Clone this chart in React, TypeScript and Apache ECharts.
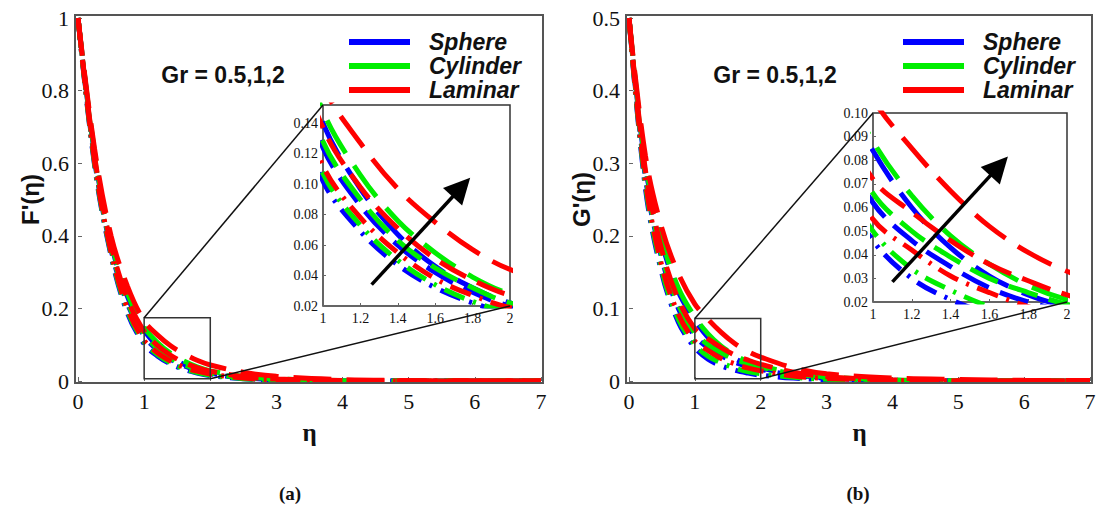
import React, { useEffect, useRef } from "react";
import * as echarts from "echarts";

// similarity variable η where every profile is sampled
const ETA = [0, 0.25, 0.5, 0.75, 1, 1.2, 1.4, 1.6, 1.8, 2, 2.5, 3, 4, 5, 6, 7];

// F'(η) profiles for Gr = 0.5, 1, 2
const F_SPHERE_GR05 = [1, 0.595, 0.345, 0.186, 0.102, 0.069, 0.047, 0.032, 0.022, 0.015, 0.006, 0.0025, 0.0005, 0.0001, 0, 0];
const F_SPHERE_GR1 = [1, 0.61, 0.362, 0.212, 0.124, 0.086, 0.06, 0.042, 0.029, 0.02, 0.008, 0.0035, 0.0009, 0.0002, 0.0001, 0];
const F_SPHERE_GR2 = [1, 0.625, 0.38, 0.232, 0.14, 0.097, 0.067, 0.046, 0.032, 0.022, 0.009, 0.004, 0.001, 0.0003, 0.0001, 0];
const F_CYLINDER_GR05 = [1, 0.6, 0.35, 0.192, 0.107, 0.073, 0.05, 0.034, 0.023, 0.016, 0.0065, 0.0028, 0.0006, 0.0001, 0, 0];
const F_CYLINDER_GR1 = [1, 0.615, 0.368, 0.217, 0.128, 0.09, 0.063, 0.045, 0.032, 0.022, 0.009, 0.004, 0.001, 0.0002, 0.0001, 0];
const F_CYLINDER_GR2 = [1, 0.63, 0.385, 0.24, 0.148, 0.106, 0.076, 0.055, 0.039, 0.028, 0.013, 0.006, 0.0015, 0.0004, 0.0001, 0];
const F_LAMINAR_GR05 = [1, 0.605, 0.355, 0.198, 0.112, 0.078, 0.055, 0.038, 0.027, 0.019, 0.008, 0.0035, 0.0008, 0.0002, 0, 0];
const F_LAMINAR_GR1 = [1, 0.62, 0.375, 0.225, 0.137, 0.098, 0.071, 0.051, 0.037, 0.027, 0.012, 0.0055, 0.0013, 0.0004, 0.0001, 0];
const F_LAMINAR_GR2 = [1, 0.64, 0.4, 0.26, 0.165, 0.127, 0.097, 0.075, 0.057, 0.044, 0.024, 0.013, 0.004, 0.0015, 0.0006, 0.0003];

// G'(η) profiles for Gr = 0.5, 1, 2
const G_SPHERE_GR05 = [0.5, 0.265, 0.148, 0.081, 0.046, 0.03, 0.021, 0.015, 0.011, 0.008, 0.004, 0.002, 0.0005, 0.0001, 0, 0];
const G_SPHERE_GR1 = [0.5, 0.28, 0.168, 0.1, 0.062, 0.046, 0.035, 0.026, 0.02, 0.016, 0.008, 0.004, 0.001, 0.0003, 0.0001, 0];
const G_SPHERE_GR2 = [0.5, 0.295, 0.19, 0.123, 0.084, 0.06, 0.043, 0.031, 0.023, 0.018, 0.009, 0.0045, 0.0011, 0.0003, 0.0001, 0];
const G_CYLINDER_GR05 = [0.5, 0.27, 0.152, 0.085, 0.05, 0.034, 0.025, 0.018, 0.013, 0.01, 0.005, 0.0025, 0.0006, 0.0001, 0, 0];
const G_CYLINDER_GR1 = [0.5, 0.285, 0.172, 0.105, 0.066, 0.05, 0.039, 0.03, 0.024, 0.019, 0.01, 0.005, 0.0012, 0.0003, 0.0001, 0];
const G_CYLINDER_GR2 = [0.5, 0.3, 0.195, 0.128, 0.088, 0.065, 0.048, 0.036, 0.027, 0.021, 0.011, 0.0055, 0.0014, 0.0004, 0.0001, 0];
const G_LAMINAR_GR05 = [0.5, 0.275, 0.158, 0.092, 0.055, 0.042, 0.031, 0.024, 0.018, 0.014, 0.007, 0.0035, 0.0009, 0.0002, 0.0001, 0];
const G_LAMINAR_GR1 = [0.5, 0.29, 0.18, 0.112, 0.072, 0.058, 0.046, 0.036, 0.029, 0.023, 0.012, 0.006, 0.0016, 0.0004, 0.0001, 0];
const G_LAMINAR_GR2 = [0.5, 0.31, 0.21, 0.148, 0.106, 0.085, 0.067, 0.052, 0.041, 0.033, 0.018, 0.01, 0.004, 0.002, 0.001, 0.0007];

const GEOMETRIES = ["Sphere", "Cylinder", "Laminar"];
const GR_VALUES = ["0.5", "1", "2"];

// axis ticks
const MAIN_X_TICKS = [0, 1, 2, 3, 4, 5, 6, 7];
const F_MAIN_TICKS = [0, 0.2, 0.4, 0.6, 0.8, 1];
const G_MAIN_TICKS = [0, 0.1, 0.2, 0.3, 0.4, 0.5];
const INSET_X_TICKS = [1, 1.2, 1.4, 1.6, 1.8, 2];
const F_INSET_TICKS = [0.02, 0.04, 0.06, 0.08, 0.1, 0.12, 0.14];
const F_INSET_TOP = 0.152;
const G_INSET_TICKS = [0.02, 0.03, 0.04, 0.05, 0.06, 0.07, 0.08, 0.09, 0.1];

// magnified window [ηmin, ηmax, ymin, ymax] marked on each main plot
const F_ZOOM_BOX = [1, 2, 0.006, 0.174];
const G_ZOOM_BOX = [1, 2, 0.003, 0.086];

// increasing-Gr arrows inside the insets
const F_ARROW = [[1.26, 0.034], [1.74, 0.098]];
const G_ARROW = [[1.1, 0.0285], [1.65, 0.0775]];

const F_CURVES: Record<string, number[][]> = {
  Sphere: [F_SPHERE_GR05, F_SPHERE_GR1, F_SPHERE_GR2],
  Cylinder: [F_CYLINDER_GR05, F_CYLINDER_GR1, F_CYLINDER_GR2],
  Laminar: [F_LAMINAR_GR05, F_LAMINAR_GR1, F_LAMINAR_GR2],
};
const G_CURVES: Record<string, number[][]> = {
  Sphere: [G_SPHERE_GR05, G_SPHERE_GR1, G_SPHERE_GR2],
  Cylinder: [G_CYLINDER_GR05, G_CYLINDER_GR1, G_CYLINDER_GR2],
  Laminar: [G_LAMINAR_GR05, G_LAMINAR_GR1, G_LAMINAR_GR2],
};

const COLORS: Record<string, string> = {
  Sphere: "#0000ff",
  Cylinder: "#00ee00",
  Laminar: "#ff0000",
};
const DASHES: Record<string, number[]> = {
  "0.5": [22, 9, 3, 9],
  "1": [30, 12],
  "2": [38, 15],
};

const SERIF = "Liberation Serif";
const SANS = "Liberation Sans";

const step = (t: number[]) => Math.round((t[1] - t[0]) * 1e6) / 1e6;

// tick numbers are written as graphic text so that their face and size are fixed
const TICK_FONT = { fontFamily: SERIF, fontSize: 22, fontWeight: "normal" };
const INSET_TICK_FONT = { fontFamily: SERIF, fontSize: 14, fontWeight: "normal" };

function baseAxis(gridIndex: number, min: number, max: number, interval: number, tickLen: number) {
  return {
    type: "value",
    gridIndex,
    min,
    max,
    interval,
    axisLine: { show: false },
    axisTick: { show: true, inside: true, length: tickLen, lineStyle: { color: "#666" } },
    splitLine: { show: false },
    axisLabel: { show: false },
  };
}

function curveSeries(curves: Record<string, number[][]>, mainIdx: number, insetIdx: number) {
  const out: any[] = [];
  GEOMETRIES.forEach((geo) => {
    curves[geo].forEach((vals, gi) => {
      const data = ETA.map((x, i) => [x, vals[i]]);
      const base = {
        type: "line",
        name: geo,
        data,
        symbol: "none",
        showSymbol: false,
        smooth: 0.35,
        silent: true,
        itemStyle: { color: COLORS[geo] },
        lineStyle: { color: COLORS[geo], width: 5, type: DASHES[GR_VALUES[gi]], cap: "butt" },
      };
      out.push({ ...base, xAxisIndex: mainIdx, yAxisIndex: mainIdx, clip: false, z: 3 });
      out.push({ ...base, xAxisIndex: insetIdx, yAxisIndex: insetIdx, clip: true, z: 3 });
    });
  });
  return out;
}

function arrowSeries(idx: number, coords: number[][]) {
  return {
    type: "lines",
    coordinateSystem: "cartesian2d",
    xAxisIndex: idx,
    yAxisIndex: idx,
    silent: true,
    z: 10,
    symbol: ["none", "triangle"],
    symbolSize: [1, 26],
    lineStyle: { color: "#000", width: 3.5, opacity: 1, curveness: 0 },
    data: [{ coords }],
  };
}

function legend(left: number) {
  return {
    left,
    top: 30,
    orient: "vertical",
    data: GEOMETRIES,
    icon: "rect",
    itemWidth: 61,
    itemHeight: 6,
    itemGap: 0,
    padding: 0,
    selectedMode: false,
    itemStyle: { borderWidth: 0 },
    textStyle: {
      fontFamily: SANS,
      fontWeight: "bold",
      fontStyle: "italic",
      fontSize: 23,
      lineHeight: 24,
      color: "#111",
      padding: [0, 0, 0, 14],
    },
  };
}

export default function App() {
  const ref = useRef<HTMLDivElement>(null);

  useEffect(() => {
    if (!ref.current) return;
    const chart = echarts.init(ref.current, undefined, { renderer: "svg" });

    const lastOf = (a: number[]) => a[a.length - 1];

    const option: any = {
      animation: false,
      backgroundColor: "#ffffff",
      grid: [
        { left: 78, top: 18, width: 463, height: 363 },
        { left: 323, top: 105, width: 187, height: 201, show: true, borderColor: "#333", borderWidth: 1.5, backgroundColor: "transparent" },
        { left: 629, top: 18, width: 461, height: 363 },
        { left: 873, top: 113, width: 194, height: 189, show: true, borderColor: "#333", borderWidth: 1.5, backgroundColor: "transparent" },
      ],
      xAxis: [
        baseAxis(0, MAIN_X_TICKS[0], lastOf(MAIN_X_TICKS), step(MAIN_X_TICKS), 4),
        baseAxis(1, INSET_X_TICKS[0], lastOf(INSET_X_TICKS), step(INSET_X_TICKS), 3),
        baseAxis(2, MAIN_X_TICKS[0], lastOf(MAIN_X_TICKS), step(MAIN_X_TICKS), 4),
        baseAxis(3, INSET_X_TICKS[0], lastOf(INSET_X_TICKS), step(INSET_X_TICKS), 3),
      ],
      yAxis: [
        baseAxis(0, F_MAIN_TICKS[0], lastOf(F_MAIN_TICKS), step(F_MAIN_TICKS), 4),
        baseAxis(1, F_INSET_TICKS[0], F_INSET_TOP, step(F_INSET_TICKS), 3),
        baseAxis(2, G_MAIN_TICKS[0], lastOf(G_MAIN_TICKS), step(G_MAIN_TICKS), 4),
        baseAxis(3, G_INSET_TICKS[0], lastOf(G_INSET_TICKS), step(G_INSET_TICKS), 3),
      ],
      legend: [legend(349), legend(903)],
      series: [
        ...curveSeries(F_CURVES, 0, 1),
        ...curveSeries(G_CURVES, 2, 3),
        arrowSeries(1, F_ARROW),
        arrowSeries(3, G_ARROW),
      ],
    };
    chart.setOption(option);

    const px = (gi: number, p: number[]) => chart.convertToPixel({ gridIndex: gi }, p) as number[];

    const text = (x: number, y: number, t: string, font: any, align = "center", vAlign = "middle", rotation = 0) => ({
      type: "text",
      silent: true,
      z: 20,
      x,
      y,
      rotation,
      style: { text: t, align, verticalAlign: vAlign, fill: "#111", ...font },
    });

    // tick numbers along both axes of a grid
    const tickTexts = (gi: number, xs: number[], ys: number[], yAnchor: number, font: any, gap: number, fmtY: (v: number) => string) => {
      const out: any[] = [];
      xs.forEach((v) => {
        const p = px(gi, [v, yAnchor]);
        out.push(text(p[0], p[1] + gap, String(v), font, "center", "top"));
      });
      ys.forEach((v) => {
        const p = px(gi, [xs[0], v]);
        out.push(text(p[0] - gap, p[1], fmtY(v), font, "right", "middle"));
      });
      return out;
    };

    const frame = (gi: number, xs: number[], ys: number[]) => {
      const a = px(gi, [xs[0], lastOf(ys)]);
      const b = px(gi, [lastOf(xs), ys[0]]);
      return {
        type: "rect",
        silent: true,
        z: 20,
        shape: { x: a[0] - 3, y: a[1] - 3, width: b[0] - a[0] + 5, height: b[1] - a[1] + 5 },
        style: { fill: "none", stroke: "#555", lineWidth: 2 },
      };
    };

    const zoomParts = (main: number, inset: number, box: number[], insetTop: number, insetBottom: number) => {
      const tl = px(main, [box[0], box[3]]);
      const br = px(main, [box[1], box[2]]);
      const itl = px(inset, [INSET_X_TICKS[0], insetTop]);
      const ibr = px(inset, [lastOf(INSET_X_TICKS), insetBottom]);
      const line = { stroke: "#111", lineWidth: 1.5 };
      return [
        {
          type: "rect",
          silent: true,
          z: 20,
          shape: { x: tl[0], y: tl[1], width: br[0] - tl[0], height: br[1] - tl[1] },
          style: { fill: "none", stroke: "#333", lineWidth: 1.5 },
        },
        { type: "line", silent: true, z: 20, shape: { x1: tl[0], y1: tl[1], x2: itl[0], y2: itl[1] }, style: line },
        { type: "line", silent: true, z: 20, shape: { x1: br[0], y1: br[1], x2: ibr[0], y2: ibr[1] }, style: line },
      ];
    };

    const grFont = { fontFamily: SANS, fontWeight: "bold", fontSize: 23 };
    const capFont = { fontFamily: SERIF, fontWeight: "bold", fontSize: 19 };
    const etaFont = { fontFamily: SERIF, fontWeight: "bold", fontSize: 25 };
    const yNameFont = { fontFamily: SANS, fontWeight: "bold", fontSize: 24 };

    const fLeft = px(0, [0, 0.5]);
    const gLeft = px(2, [0, 0.25]);
    const fMid = px(0, [3.5, 0]);
    const gMid = px(2, [3.5, 0]);

    chart.setOption({
      graphic: [
        frame(0, MAIN_X_TICKS, F_MAIN_TICKS),
        frame(2, MAIN_X_TICKS, G_MAIN_TICKS),
        ...tickTexts(0, MAIN_X_TICKS, F_MAIN_TICKS, 0, TICK_FONT, 9, (v) => String(v)),
        ...tickTexts(2, MAIN_X_TICKS, G_MAIN_TICKS, 0, TICK_FONT, 9, (v) => String(v)),
        ...tickTexts(1, INSET_X_TICKS, F_INSET_TICKS, F_INSET_TICKS[0], INSET_TICK_FONT, 5, (v) => v.toFixed(2)),
        ...tickTexts(3, INSET_X_TICKS, G_INSET_TICKS, G_INSET_TICKS[0], INSET_TICK_FONT, 5, (v) => v.toFixed(2)),
        ...zoomParts(0, 1, F_ZOOM_BOX, F_INSET_TOP, F_INSET_TICKS[0]),
        ...zoomParts(2, 3, G_ZOOM_BOX, lastOf(G_INSET_TICKS), G_INSET_TICKS[0]),
        text(fLeft[0] - 48, fLeft[1], "F'(η)", yNameFont, "center", "middle", Math.PI / 2),
        text(gLeft[0] - 48, gLeft[1], "G'(η)", yNameFont, "center", "middle", Math.PI / 2),
        text(fMid[0], fMid[1] + 51, "η", etaFont),
        text(gMid[0], gMid[1] + 51, "η", etaFont),
        text(223, 75, "Gr = " + GR_VALUES.join(","), grFont),
        text(775, 75, "Gr = " + GR_VALUES.join(","), grFont),
        text(290, 493, "(a)", capFont),
        text(858, 493, "(b)", capFont),
      ],
    });

    return () => chart.dispose();
  }, []);

  return (
    <div
      ref={ref}
      style={{ position: "absolute", left: 0, top: 0, width: 1110, height: 508, background: "#fff" }}
    />
  );
}
